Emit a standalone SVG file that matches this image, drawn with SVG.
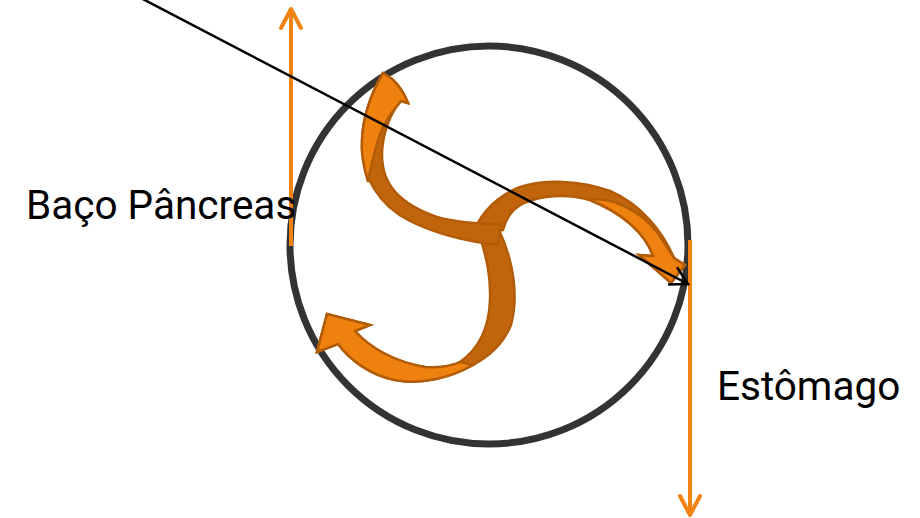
<svg xmlns="http://www.w3.org/2000/svg" width="920" height="518" viewBox="0 0 920 518">
<defs>
<style>
.ring{fill:none;stroke:#333333;stroke-width:7}
.dark{fill:#C0650B;stroke:#B25C08;stroke-width:2.5;stroke-linejoin:miter}
.light{fill:#EF810F;stroke:#B25C08;stroke-width:2.5;stroke-linejoin:miter}
.oline{fill:none;stroke:#F08311;stroke-width:4}
.bline{fill:none;stroke:#000000;stroke-width:2.5}
.lbl{font-family:Roboto,"Liberation Sans",sans-serif;font-size:40.5px;fill:#000000}
</style>
<marker id="ohead" markerUnits="userSpaceOnUse" orient="auto" refX="0" refY="0" markerWidth="40" markerHeight="40" viewBox="-30 -20 40 40" overflow="visible">
<path d="M -19,-10 L 0,0 L -19,10" fill="none" stroke="#F08311" stroke-width="4" stroke-linecap="round" stroke-linejoin="round"/>
</marker>
<marker id="bhead" markerUnits="userSpaceOnUse" orient="auto" refX="0" refY="0" markerWidth="40" markerHeight="40" viewBox="-30 -20 40 40" overflow="visible">
<path d="M -17.5,-9.7 L 0,0 L -17.5,9.7" fill="none" stroke="#000000" stroke-width="2.5"/>
</marker>
</defs>
<g id="ring"><circle class="ring" cx="489" cy="245" r="199"/></g>
<g id="arrow-c">
<path class="dark" d="M 481,240 L 499,230 C 513,260 519,295 511,325 C 503,345 488,357 473,365 C 450,378 420,385 395,380 C 370,375 350,360 338,344 L 317,352 L 327,314 L 370,325 L 355,331 C 370,348 395,362 425,367 C 440,368 452,366 460,362 C 477,350 489,330 490,300 C 491,275 486,257 481,240 Z"/>
<path class="light" d="M 473,365 C 450,378 420,385 395,380 C 370,375 350,360 338,344 L 317,352 L 327,314 L 370,325 L 355,331 C 370,348 395,362 425,367 C 440,368 452,366 460,362 Z"/>
</g>
<g id="arrow-b">
<path class="dark" d="M 471,238 C 479,215 495,197 520,187 C 545,179 580,180 610,191 C 640,204 662,230 674,258 L 685,265 L 671,283 L 639,255 L 653,256 C 645,232 620,212 590,200 C 565,193 540,196 524,203 C 512,209 506,218 503,230 Z"/>
<path class="light" d="M 590,200 C 610,196 640,210 657,232 L 674,258 L 685,265 L 671,283 L 639,255 L 653,256 C 645,232 620,212 590,200 Z"/>
</g>
<g id="arrow-a">
<path class="dark" d="M 498,245 C 470,242 440,236 410,221 C 380,206 361,178 362,140 C 363,115 372,92 383,73 L 392,79 Q 402,88 408,103 L 401,101 C 390,113 382,135 382,155 C 382,185 400,204 437,217 C 455,222 478,224 500,224 Z"/>
<path class="light" d="M 368,182 C 363,165 361,150 362,140 C 363,115 372,92 383,73 L 392,79 Q 402,88 408,103 L 401,101 C 392,112 384,122 379,137 C 375,150 371,165 368,182 Z"/>
</g>
<g id="connectors">
<path class="oline" d="M 291,246 L 291,9" marker-end="url(#ohead)"/>
<path class="oline" d="M 690,240 L 690,515" marker-end="url(#ohead)"/>
</g>
<g id="label-baco"><text class="lbl" x="26" y="219">Baço Pâncreas</text></g>
<g id="label-estomago"><text class="lbl" x="717" y="400">Estômago</text></g>
<g id="pointer">
<path class="bline" d="M 137,-4 L 688,284" marker-end="url(#bhead)"/>
</g>
</svg>
